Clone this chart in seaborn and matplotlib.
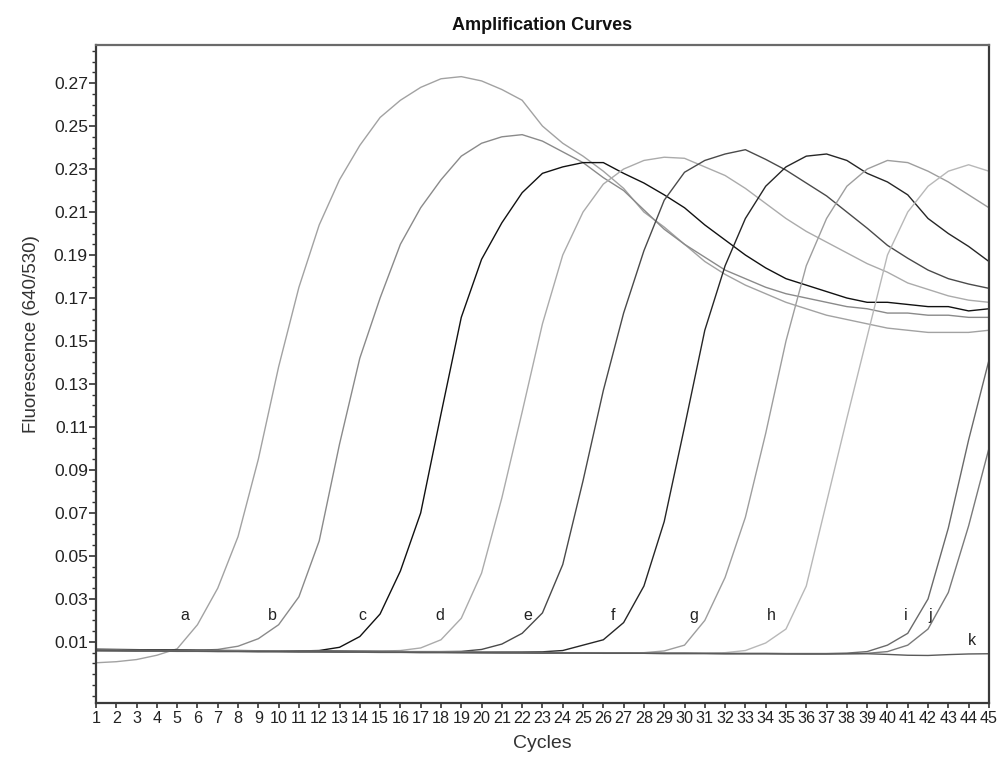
import numpy as np
import pandas as pd
import matplotlib
matplotlib.use('Agg')
import matplotlib.pyplot as plt
from matplotlib.ticker import MultipleLocator
import seaborn as sns

# Data (fluorescence 640/530 per cycle)
cycles = list(range(1, 46))
curve_names = ['a', 'b', 'c', 'd', 'e', 'f', 'g', 'h', 'i', 'j', 'k']

a = [0.0003, 0.0008, 0.0018, 0.0038, 0.0068, 0.018, 0.035, 0.059, 0.095, 0.138,
     0.175, 0.204, 0.225, 0.241, 0.254, 0.262, 0.268, 0.272, 0.273, 0.271,
     0.267, 0.262, 0.250, 0.242, 0.236, 0.229, 0.221, 0.210, 0.203, 0.195,
     0.187, 0.181, 0.176, 0.172, 0.168, 0.165, 0.162, 0.160, 0.158, 0.156,
     0.155, 0.154, 0.154, 0.154, 0.155]
b = [0.0064, 0.0063, 0.0062, 0.0062, 0.0061, 0.0061, 0.0065, 0.008, 0.0115, 0.018,
     0.031, 0.057, 0.102, 0.142, 0.170, 0.195, 0.212, 0.225, 0.236, 0.242,
     0.245, 0.246, 0.243, 0.238, 0.233, 0.226, 0.220, 0.211, 0.202, 0.195,
     0.189, 0.183, 0.179, 0.175, 0.172, 0.170, 0.168, 0.166, 0.165, 0.163,
     0.163, 0.162, 0.162, 0.161, 0.161]
c = [0.0066, 0.0065, 0.0064, 0.0063, 0.0062, 0.0061, 0.0060, 0.0060, 0.0059, 0.0058,
     0.0058, 0.0060, 0.0075, 0.0125, 0.023, 0.043, 0.070, 0.116, 0.161, 0.188,
     0.205, 0.219, 0.228, 0.231, 0.233, 0.233, 0.228, 0.2235, 0.218, 0.212,
     0.204, 0.197, 0.190, 0.184, 0.179, 0.176, 0.173, 0.170, 0.168, 0.168,
     0.167, 0.166, 0.166, 0.164, 0.165]
d = [0.0062, 0.0061, 0.0061, 0.0060, 0.0060, 0.0059, 0.0059, 0.0058, 0.0058, 0.0057,
     0.0057, 0.0056, 0.0056, 0.0056, 0.0057, 0.0060, 0.0072, 0.011, 0.021, 0.042,
     0.077, 0.117, 0.158, 0.190, 0.210, 0.223, 0.230, 0.234, 0.2355, 0.235,
     0.231, 0.227, 0.221, 0.214, 0.207, 0.201, 0.196, 0.191, 0.186, 0.182,
     0.177, 0.174, 0.171, 0.169, 0.168]
e = [0.0063, 0.0062, 0.0062, 0.0061, 0.0061, 0.0060, 0.0060, 0.0059, 0.0059, 0.0058,
     0.0058, 0.0057, 0.0057, 0.0056, 0.0056, 0.0055, 0.0055, 0.0055, 0.0056, 0.0065,
     0.0090, 0.014, 0.0235, 0.046, 0.085, 0.127, 0.163, 0.192, 0.2155, 0.2285,
     0.234, 0.237, 0.239, 0.2345, 0.2295, 0.2235, 0.2175, 0.210, 0.2025, 0.1945,
     0.1885, 0.183, 0.179, 0.1765, 0.1745]
f = [0.0062, 0.0062, 0.0061, 0.0061, 0.0060, 0.0060, 0.0059, 0.0059, 0.0058, 0.0058,
     0.0057, 0.0057, 0.0056, 0.0056, 0.0055, 0.0055, 0.0054, 0.0054, 0.0054, 0.0053,
     0.0053, 0.0053, 0.0054, 0.0060, 0.0085, 0.011, 0.019, 0.036, 0.066, 0.110,
     0.155, 0.185, 0.207, 0.222, 0.231, 0.236, 0.237, 0.234, 0.228, 0.224,
     0.218, 0.207, 0.200, 0.194, 0.187]
g = [0.0061, 0.0061, 0.0060, 0.0060, 0.0059, 0.0059, 0.0058, 0.0058, 0.0057, 0.0057,
     0.0056, 0.0056, 0.0055, 0.0055, 0.0054, 0.0054, 0.0053, 0.0053, 0.0052, 0.0052,
     0.0052, 0.0051, 0.0051, 0.0050, 0.0050, 0.0050, 0.0049, 0.0050, 0.0058, 0.0085,
     0.020, 0.040, 0.068, 0.107, 0.150, 0.185, 0.207, 0.222, 0.230, 0.234,
     0.233, 0.229, 0.224, 0.218, 0.212]
h = [0.0060, 0.0060, 0.0059, 0.0059, 0.0058, 0.0058, 0.0057, 0.0057, 0.0056, 0.0056,
     0.0055, 0.0055, 0.0054, 0.0054, 0.0053, 0.0053, 0.0052, 0.0052, 0.0051, 0.0051,
     0.0050, 0.0050, 0.0050, 0.0049, 0.0049, 0.0049, 0.0048, 0.0048, 0.0048, 0.0048,
     0.0047, 0.0050, 0.0060, 0.0095, 0.016, 0.036, 0.075, 0.114, 0.152, 0.190,
     0.210, 0.222, 0.229, 0.232, 0.229]
i = [0.0061, 0.0060, 0.0060, 0.0059, 0.0059, 0.0058, 0.0058, 0.0057, 0.0057, 0.0056,
     0.0056, 0.0055, 0.0055, 0.0054, 0.0054, 0.0053, 0.0053, 0.0052, 0.0052, 0.0051,
     0.0051, 0.0050, 0.0050, 0.0050, 0.0049, 0.0049, 0.0049, 0.0048, 0.0048, 0.0048,
     0.0047, 0.0047, 0.0047, 0.0047, 0.0046, 0.0046, 0.0046, 0.0048, 0.0055, 0.0085,
     0.014, 0.030, 0.063, 0.104, 0.141]
j = [0.0058, 0.0058, 0.0057, 0.0057, 0.0056, 0.0056, 0.0055, 0.0055, 0.0054, 0.0054,
     0.0053, 0.0053, 0.0052, 0.0052, 0.0051, 0.0051, 0.0050, 0.0050, 0.0050, 0.0049,
     0.0049, 0.0049, 0.0048, 0.0048, 0.0048, 0.0047, 0.0047, 0.0047, 0.0046, 0.0046,
     0.0046, 0.0045, 0.0045, 0.0045, 0.0045, 0.0044, 0.0044, 0.0045, 0.0047, 0.0055,
     0.0085, 0.016, 0.033, 0.064, 0.100]
k = [0.0060, 0.0059, 0.0058, 0.0058, 0.0057, 0.0057, 0.0056, 0.0056, 0.0055, 0.0055,
     0.0054, 0.0054, 0.0053, 0.0053, 0.0052, 0.0052, 0.0051, 0.0051, 0.0050, 0.0050,
     0.0049, 0.0049, 0.0048, 0.0048, 0.0048, 0.0047, 0.0047, 0.0047, 0.0046, 0.0046,
     0.0046, 0.0045, 0.0045, 0.0045, 0.0044, 0.0044, 0.0044, 0.0045, 0.0045, 0.0042,
     0.0038, 0.0037, 0.0041, 0.0044, 0.0045]

y_tick_values = [0.01, 0.03, 0.05, 0.07, 0.09, 0.11, 0.13, 0.15, 0.17, 0.19, 0.21, 0.23, 0.25, 0.27]

# where the letter for each curve sits (cycle, fluorescence)
label_cycles = [5.4, 9.7, 14.15, 17.95, 22.3, 26.5, 30.45, 34.3, 40.9, 42.1, 44.15]
label_levels = [0.0225, 0.0225, 0.0225, 0.0225, 0.0225, 0.0225, 0.0225, 0.0225, 0.0225, 0.0225, 0.0105]

curve_colors = {'a': '#a2a2a2', 'b': '#8a8a8a', 'c': '#111111', 'd': '#ababab',
                'e': '#4a4a4a', 'f': '#262626', 'g': '#9e9e9e', 'h': '#b8b8b8',
                'i': '#6a6a6a', 'j': '#7a7a7a', 'k': '#5a5a5a'}

series = [a, b, c, d, e, f, g, h, i, j, k]
df = pd.DataFrame({
    'Cycle': cycles * len(series),
    'Fluorescence': sum(series, []),
    'Curve': np.repeat(curve_names, len(cycles)),
})

sns.set_style('ticks')
plt.rcParams['font.family'] = ['Liberation Sans', 'DejaVu Sans']

fig, ax = plt.subplots(figsize=(10.05, 7.58), dpi=100)
fig.subplots_adjust(left=0.0955, right=0.984, bottom=0.0726, top=0.9406)

sns.lineplot(data=df, x='Cycle', y='Fluorescence', hue='Curve', hue_order=curve_names,
             palette=curve_colors, linewidth=1.0, legend=False, estimator=None,
             sort=False, ax=ax)

for name, xc, yc in zip(curve_names, label_cycles, label_levels):
    ax.text(xc, yc, name, ha='center', va='center', fontsize=11.5, color='#222222')

ax.set_xlim(1, 45)
ax.set_ylim(-0.0184, 0.2877)
ax.set_xticks(cycles)
ax.set_xticklabels([str(v) for v in cycles])
ax.set_yticks(y_tick_values)
ax.set_yticklabels([f'{v:.2f}' for v in y_tick_values])
ax.yaxis.set_minor_locator(MultipleLocator(0.005))

ax.tick_params(axis='x', which='major', length=3.6, width=1.2, color='#333333',
               labelsize=11.6, labelcolor='#222222', pad=2.5)
ax.tick_params(axis='y', which='major', length=5, width=1.2, color='#333333',
               labelsize=12.6, labelcolor='#222222', pad=0.8)
ax.tick_params(axis='y', which='minor', length=2.6, width=1.0, color='#333333')

for side in ['left', 'right', 'top', 'bottom']:
    ax.spines[side].set_visible(True)
    ax.spines[side].set_linewidth(1.6)
    ax.spines[side].set_color('#3a3a3a')
ax.spines['top'].set_color('#6a6a6a')

ax.set_title('Amplification Curves', fontsize=13, fontweight='bold', pad=11, color='#111111')
ax.set_xlabel('Cycles', fontsize=14, color='#333333', labelpad=6)
ax.set_ylabel('Fluorescence (640/530)', fontsize=13.5, color='#333333')
ax.yaxis.set_label_coords(-0.063, 0.561)

fig.savefig('out.png', dpi=100, facecolor='white')
